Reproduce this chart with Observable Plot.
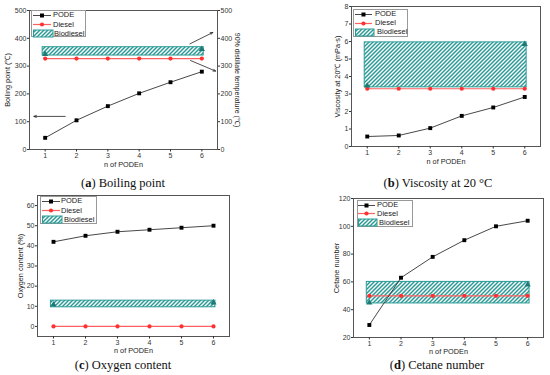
<!DOCTYPE html>
<html><head><meta charset="utf-8">
<script src="https://cdn.jsdelivr.net/npm/d3@7"></script>
<script src="https://cdn.jsdelivr.net/npm/@observablehq/plot@0.6"></script>
<style>
body{margin:0;background:#fff;}
#chart{position:relative;width:550px;height:375px;overflow:hidden;font-family:"Liberation Sans",Arial,sans-serif;}
#chart svg.plot{position:absolute;}
.cap{position:absolute;font-family:"Liberation Serif","Times New Roman",serif;font-size:12.5px;line-height:14px;white-space:nowrap;transform:translateX(-50%);color:#111;}
.leg{position:absolute;border:1px solid #999;background:#fff;box-sizing:border-box;}
.lt{position:absolute;font-size:7.5px;line-height:8px;color:#222;white-space:nowrap;}
.sw{position:absolute;overflow:visible;}
</style></head><body>
<svg width="0" height="0" style="position:absolute"><defs>
<pattern id="hatch" patternUnits="userSpaceOnUse" width="4" height="4">
<rect width="4" height="4" fill="#fff"/>
<path d="M-1,1 l2,-2 M0,4 l4,-4 M3,5 l2,-2" stroke="#2a9b96" stroke-width="1.5"/>
</pattern></defs></svg>
<div id="chart"></div>
<script>
// ---------------- data ----------------
const nValues = [1, 2, 3, 4, 5, 6];
const seriesNames = ["PODE", "Diesel", "Biodiesel"];
const bioSpanN = [0.92, 6.06];

const boilPODE = [42, 105, 156, 202, 242, 280];
const boilDiesel = [327, 327, 327, 327, 327, 327];
const boilBioRange = [338, 368];
const boilBioMarks = [343, 361];
const boilTicks = [0, 100, 200, 300, 400, 500];
const boilArrows = [
  {x1: 1.64, y1: 119, x2: 0.64, y2: 119},
  {x1: 5.62, y1: 380, x2: 6.35, y2: 421},
  {x1: 5.64, y1: 320, x2: 6.44, y2: 282}
];

const viscPODE = [0.57, 0.63, 1.05, 1.75, 2.23, 2.83];
const viscDiesel = [3.3, 3.3, 3.3, 3.3, 3.3, 3.3];
const viscBioRange = [3.38, 5.95];
const viscBioMarks = [3.47, 5.85];
const viscTicks = [0, 1, 2, 3, 4, 5, 6, 7, 8];

const oxyPODE = [42, 45, 47, 48, 49, 50];
const oxyDiesel = [0, 0, 0, 0, 0, 0];
const oxyBioRange = [9.5, 12.8];
const oxyBioMarks = [10.8, 11.8];
const oxyTicks = [0, 10, 20, 30, 40, 50, 60];

const cetPODE = [29, 63, 78, 90, 100, 104];
const cetDiesel = [50, 50, 50, 50, 50, 50];
const cetBioRange = [44.5, 60];
const cetBioMarks = [45, 58];
const cetTicks = [20, 40, 60, 80, 100, 120];

const xLabel = "n of PODEn";
const captions = [["a", "Boiling point"], ["b", "Viscosity at 20 °C"], ["c", "Oxygen content"], ["d", "Cetane number"]];

// ---------------- layout ----------------
const teal = "#2a9b96", tealDark = "#1f7a76", red = "#ff3030", redLine = "#ff6060";
const panels = [
  {pode: boilPODE, diesel: boilDiesel, bio: boilBioRange, bioMarks: boilBioMarks, ticks: boilTicks, domain: [0, 500],
   yLabel: "Boiling point (\u2103)", rightLabel: "90% distillate temperature (\u2103)", arrows: boilArrows,
   left: 0, top: 0, width: 275, height: 172, m: [10, 58, 23, 29], yLabelDx: -22, xLabelDy: 15,
   cap: {x: 123, y: 176},
   leg: {box: [31, 10, 55, 27], rows: [15, 24.5, 33.5], sw: [33, 51], tx: 53, btx: 54}},
  {pode: viscPODE, diesel: viscDiesel, bio: viscBioRange, bioMarks: viscBioMarks, ticks: viscTicks, domain: [0, 8],
   yLabel: "Viscosity at 20\u2103 (mPa\u00b7s)",
   left: 275, top: 0, width: 275, height: 170, m: [6, 10, 24, 76], yLabelDx: -14, xLabelDy: 15,
   cap: {x: 438, y: 176},
   leg: {box: [353, 9, 55, 28], rows: [14, 23, 32], sw: [355, 372], tx: 375, btx: 377}},
  {pode: oxyPODE, diesel: oxyDiesel, bio: oxyBioRange, bioMarks: oxyBioMarks, ticks: oxyTicks, domain: [-5, 65],
   yLabel: "Oxygen content (%)",
   left: 0, top: 185, width: 275, height: 172, m: [10, 46, 21, 37], yLabelDx: -17, xLabelDy: 14,
   cap: {x: 123, y: 358},
   leg: {box: [40, 196, 57, 28], rows: [201, 210.5, 219.5], sw: [42, 60], tx: 61, btx: 64}},
  {pode: cetPODE, diesel: cetDiesel, bio: cetBioRange, bioMarks: cetBioMarks, ticks: cetTicks, domain: [20, 120],
   yLabel: "Cetane number",
   left: 275, top: 185, width: 275, height: 172, m: [13, 7, 20, 78], yLabelDx: -17, xLabelDy: 14,
   cap: {x: 437, y: 358},
   leg: {box: [357, 200, 56, 27], rows: [205, 213.5, 222.5], sw: [358, 375], tx: 377, btx: 379}}
];

const chart = document.getElementById("chart");
const labelOpts = {text: d => d, fontSize: 7.3, fill: "#222", textAnchor: "middle", lineAnchor: "middle"};

panels.forEach((p, i) => {
  const podeData = nValues.map((n, k) => ({n, v: p.pode[k]}));
  const dieselData = nValues.map((n, k) => ({n, v: p.diesel[k]}));
  const bandData = [{x1: bioSpanN[0], x2: bioSpanN[1], y1: p.bio[0], y2: p.bio[1]}];
  const triData = [{n: nValues[0], v: p.bioMarks[0]}, {n: nValues[nValues.length - 1], v: p.bioMarks[1]}];
  const axisOpts = {ticks: p.ticks, tickSize: 2, tickPadding: 1, label: null, fontSize: 7, tickFormat: d => String(d)};
  const marks = [
    Plot.rect(bandData, {x1: "x1", x2: "x2", y1: "y1", y2: "y2", fill: "url(#hatch)", stroke: teal, strokeWidth: 1}),
    Plot.line(dieselData, {x: "n", y: "v", stroke: redLine, strokeWidth: 1.2}),
    Plot.dot(dieselData, {x: "n", y: "v", r: 2.1, fill: red, stroke: "none"}),
    Plot.dot(triData, {x: "n", y: "v", symbol: "triangle", r: 2.3, fill: tealDark, stroke: "none"}),
    Plot.line(podeData, {x: "n", y: "v", stroke: "#333", strokeWidth: 0.9}),
    Plot.dot(podeData, {x: "n", y: "v", symbol: "square", r: 2.2, fill: "#000", stroke: "none"}),
    Plot.frame({stroke: "#555", strokeWidth: 1}),
    Plot.axisX({ticks: nValues, tickSize: 2.5, tickPadding: 1, label: null, fontSize: 7, tickFormat: d => String(d)}),
    Plot.axisY({anchor: "left", ...axisOpts}),
    Plot.text([xLabel], {...labelOpts, frameAnchor: "bottom", dy: p.xLabelDy}),
    Plot.text([p.yLabel], {...labelOpts, frameAnchor: "left", rotate: -90, dx: p.yLabelDx})
  ];
  if (p.rightLabel) {
    marks.push(Plot.axisY({anchor: "right", ...axisOpts}));
    marks.push(Plot.text([p.rightLabel], {...labelOpts, frameAnchor: "right", rotate: 90, dx: 19.5, fontSize: 7}));
  }
  if (p.arrows) {
    marks.push(Plot.arrow(p.arrows, {x1: "x1", y1: "y1", x2: "x2", y2: "y2", stroke: "#222", strokeWidth: 0.8, headLength: 5, headAngle: 45}));
  }
  const svg = Plot.plot({
    width: p.width, height: p.height,
    marginTop: p.m[0], marginRight: p.m[1], marginBottom: p.m[2], marginLeft: p.m[3],
    x: {domain: [0.5, 6.5]},
    y: {domain: p.domain},
    style: {fontFamily: "'Liberation Sans', Arial, sans-serif", fontSize: "7px", color: "#333", background: "transparent", overflow: "visible"},
    marks
  });
  svg.classList.add("plot");
  svg.style.left = p.left + "px";
  svg.style.top = p.top + "px";
  chart.appendChild(svg);

  // legend
  const L = p.leg;
  const box = document.createElement("div");
  box.className = "leg";
  Object.assign(box.style, {left: L.box[0] + "px", top: L.box[1] + "px", width: L.box[2] + "px", height: L.box[3] + "px"});
  chart.appendChild(box);
  const swW = L.sw[1] - L.sw[0];
  seriesNames.forEach((name, k) => {
    const cy = L.rows[k];
    const sv = d3.create("svg").attr("class", "sw").attr("width", swW + 2).attr("height", 9)
      .style("left", L.sw[0] + "px").style("top", (cy - 4.5) + "px");
    if (k === 0) {
      sv.append("line").attr("x1", 0).attr("x2", swW).attr("y1", 4.5).attr("y2", 4.5).attr("stroke", "#333").attr("stroke-width", 0.9);
      sv.append("rect").attr("x", swW / 2 - 2).attr("y", 2.5).attr("width", 4).attr("height", 4).attr("fill", "#000");
    } else if (k === 1) {
      sv.append("line").attr("x1", 0).attr("x2", swW).attr("y1", 4.5).attr("y2", 4.5).attr("stroke", redLine).attr("stroke-width", 1.2);
      sv.append("circle").attr("cx", swW / 2).attr("cy", 4.5).attr("r", 2.1).attr("fill", red);
    } else {
      sv.attr("width", swW + 3);
      sv.append("rect").attr("x", 0.5).attr("y", 1).attr("width", swW + 1.5).attr("height", 7).attr("fill", "url(#hatch)").attr("stroke", teal).attr("stroke-width", 1);
    }
    chart.appendChild(sv.node());
    const t = document.createElement("div");
    t.className = "lt";
    t.textContent = name;
    t.style.left = (k === 2 ? L.btx : L.tx) + "px";
    t.style.top = (cy - 4) + "px";
    chart.appendChild(t);
  });

  // caption
  const c = document.createElement("div");
  c.className = "cap";
  c.style.left = p.cap.x + "px";
  c.style.top = p.cap.y + "px";
  c.innerHTML = "(<b>" + captions[i][0] + "</b>) " + captions[i][1];
  chart.appendChild(c);
});
</script>
</body></html>
